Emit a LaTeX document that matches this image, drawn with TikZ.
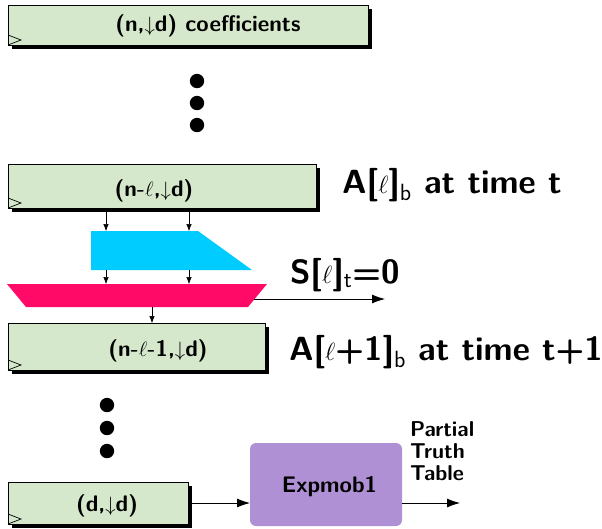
\documentclass[tikz,border=0pt]{standalone}
\usetikzlibrary{arrows.meta,shadows}
\definecolor{boxgreen}{RGB}{213,232,204}
\definecolor{cyanfill}{RGB}{0,204,255}
\definecolor{pinkfill}{RGB}{255,10,102}
\definecolor{purplefill}{RGB}{176,144,212}
\begin{document}
\begin{tikzpicture}[x=1pt,y=-1pt,
  stepbox/.style={draw=black, line width=0.8pt, fill=boxgreen, anchor=north west,
    inner sep=0pt, outer sep=0pt,
    drop shadow={shadow xshift=3.5pt, shadow yshift=-3.5pt, opacity=1, fill=black}},
  boxtext/.style={font=\fontsize{22.5}{22.5}\selectfont\sffamily\bfseries, inner sep=0pt},
  biglabel/.style={font=\fontsize{33.5}{35}\selectfont\sffamily\bfseries, inner sep=0pt, anchor=base west},
  ptlabel/.style={font=\fontsize{21.5}{22}\selectfont\sffamily\bfseries, inner sep=0pt, anchor=base west},
  marker/.style={line width=0.7pt},
  smallarrow/.style={line width=0.6pt, -{Latex[length=7pt,width=5.5pt]}},
  bigarrow/.style={line width=0.8pt, -{Latex[length=13pt,width=9pt]}},
  dot/.style={fill=black}]
\useasboundingbox (0,0) rectangle (602,528);

% box 1
\node[stepbox, minimum width=360pt, minimum height=40pt] (b1) at (8,5) {};
\draw[marker] (b1.south west) ++(0,-10) -- ++(13,5) -- ++(-13,5);
\node[boxtext] (t1) at (208,26) {(n,$\downarrow$d) coefficients};

% dots 1
\fill[dot] (197,81) circle (7.2);
\fill[dot] (197,103) circle (7.2);
\fill[dot] (197,125) circle (7.2);

% box 2
\node[stepbox, minimum width=308pt, minimum height=44pt] (b2) at (8,164) {};
\draw[marker] (b2.south west) ++(0,-10) -- ++(13,5) -- ++(-13,5);
\node[boxtext] (t2) at (154,191) {(n-$\ell$,$\downarrow$d)};
\node[biglabel] (la) at (342,193) {A[$\ell$]\textsubscript{\mdseries b} at time t};

% cyan shape
\fill[cyanfill] (91,231) -- (198,231) -- (252,270) -- (91,270) -- cycle;
\coordinate (c1t) at (106,231);
\coordinate (c2t) at (189,231);
\coordinate (c1b) at (106,270);
\coordinate (c2b) at (189,270);

% pink shape
\fill[pinkfill] (7,284) -- (267,284) -- (248,307) -- (26,307) -- cycle;
\coordinate (p1t) at (106,284);
\coordinate (p2t) at (189,284);
\coordinate (pb) at (152,307);
\coordinate (pr) at (254,299);
\coordinate (send) at (385,299);

\draw[smallarrow] (c1t |- b2.south) -- (c1t);
\draw[smallarrow] (c2t |- b2.south) -- (c2t);
\draw[smallarrow] (c1b) -- (p1t);
\draw[smallarrow] (c2b) -- (p2t);
\draw[bigarrow] (pr) -- (send);
\node[biglabel] (ls) at (290,283) {S[$\ell$]\textsubscript{\mdseries t}=0};

% box 3
\node[stepbox, minimum width=257pt, minimum height=47pt] (b3) at (8,323) {};
\draw[marker] (b3.south west) ++(0,-10) -- ++(13,5) -- ++(-13,5);
\node[boxtext] (t3) at (158,351) {(n-$\ell$-1,$\downarrow$d)};
\draw[smallarrow] (pb) -- (pb |- b3.north);
\node[biglabel] (lb) at (289,360) {A[$\ell$+1]\textsubscript{\mdseries b} at time t+1};

% dots 2
\fill[dot] (107,405) circle (7.2);
\fill[dot] (107,428) circle (7.2);
\fill[dot] (107,451) circle (7.2);

% box 4
\node[stepbox, minimum width=180pt, minimum height=42pt] (b4) at (8,482) {};
\draw[marker] (b4.south west) ++(0,-10) -- ++(13,5) -- ++(-13,5);
\node[boxtext] (t4) at (107,506) {(d,$\downarrow$d)};

% Expmob1
\node[fill=purplefill, rounded corners=6pt, minimum width=152pt, minimum height=83pt,
  anchor=north west, inner sep=0pt, outer sep=0pt] (exp) at (250,443) {};
\node[boxtext, anchor=base] (te) at (329.5,492) {Expmob1};
\draw[bigarrow] (b4.east) -- (b4.east -| exp.west);
\coordinate (out) at (460,503);
\draw[bigarrow] (exp.east |- out) -- (out);
\node[ptlabel] (pt1) at (410,436) {Partial};
\node[ptlabel] (pt2) at (410,458) {Truth};
\node[ptlabel] (pt3) at (410,480) {Table};
\end{tikzpicture}
\end{document}
